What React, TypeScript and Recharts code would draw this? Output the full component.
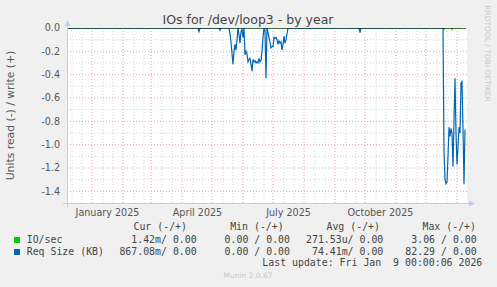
import { CartesianGrid, Line, LineChart, XAxis, YAxis } from "recharts";

// x = days counted from 1 Jan 2025; the year graph spans 400 days
const monthStarts = [-31, 0, 31, 59, 90, 120, 151, 181, 212, 243, 273, 304, 334, 365];
const monthLabels = ["January 2025", "April 2025", "July 2025", "October 2025"];
const labelDays = [15.5, 105.5, 196.5, 288.5];
const yTicks = [0, -0.2, -0.4, -0.6, -0.8, -1.0, -1.2, -1.4];
const yMinor = [-0.1, -0.3, -0.5, -0.7, -0.9, -1.1, -1.3];

// Req Size (KB), read side (drawn negative)
const reqDays = [
  -25, 106, 107, 108, 127, 128, 129, 137, 138, 139, 140, 141, 142, 143, 144, 145, 146, 147, 148, 149,
  150, 151, 152, 153, 154, 155, 156, 157, 158, 159, 160, 161, 162, 163, 164, 165, 166, 167, 168, 169,
  170, 171, 172, 173, 174, 175, 176, 177, 178, 179, 180, 181, 182, 183, 184, 185, 186, 187, 188, 189,
  190, 191, 192, 193, 194, 195, 196, 267, 268, 269, 350, 351, 352, 353, 354, 355, 356, 357, 358, 359,
  360, 361, 362, 363, 364, 365, 366, 367, 368, 369, 370, 371, 372, 373,
];
const reqRead = [
  0, 0, -0.03, 0, 0, -0.02, 0, 0, -0.05, -0.12, -0.22, -0.31, -0.2, -0.14, -0.19, -0.1, 0, -0.06, -0.13, -0.03,
  -0.01, -0.08, 0, -0.23, -0.2, -0.22, -0.29, -0.27, -0.26, -0.31, -0.37, -0.27, -0.29, -0.28, -0.3, -0.29, -0.3, -0.26, -0.29, -0.28,
  -0.2, -0.08, 0, -0.02, -0.43, 0, -0.04, -0.08, -0.12, -0.17, -0.16, -0.16, -0.08, -0.09, -0.08, -0.1, -0.14, -0.11, -0.13, -0.12,
  -0.19, -0.14, -0.07, -0.13, -0.1, -0.05, 0, 0, -0.04, 0, 0, 0, -1.05, -1.3, -1.335, -1.32, -1.1, -0.85, -0.93, -0.86,
  -0.9, -1.19, -0.8, -0.43, -0.9, -1.17, -1.02, -0.85, -0.9, -0.47, -0.46, -0.87, -1.34, -0.87,
];

// IO/sec, read side
const ioDays = [-25, 174, 175, 176, 351, 352, 353, 359, 360, 361, 374];
const ioRead = [0, 0, -0.012, 0, 0, -0.012, 0, 0, -0.012, 0, 0];

const zeroDays = [-25, 374];
const zeroVals = [0, 0];

const reqData = reqDays.map((d, i) => ({ day: d, v: reqRead[i] }));
const ioData = ioDays.map((d, i) => ({ day: d, v: ioRead[i] }));
const zeroData = zeroDays.map((d, i) => ({ day: d, v: zeroVals[i] }));

const xMin = -25;
const xMax = 375;
const majorX = monthStarts.filter((d) => d > xMin && d < xMax);
const minorX = monthStarts.flatMap((d) => [d + 11, d + 21]).filter((d) => d > xMin && d < xMax);

const sans = "'DejaVu Sans', sans-serif";
const mono = "'DejaVu Sans Mono', monospace";

function XTick({ x, y, payload }: any) {
  const i = labelDays.indexOf(payload.value);
  return (
    <text x={x} y={y} dy="0.71em" textAnchor="middle" fontSize={9.6} fontFamily={sans} fill="#555">
      {monthLabels[i]}
    </text>
  );
}

function YTick({ x, y, payload }: any) {
  return (
    <text x={x} y={y} dy="0.355em" textAnchor="end" fontSize={9.6} fontFamily={sans} fill="#555">
      {Number(payload.value).toFixed(1)}
    </text>
  );
}

export default function App() {
  return (
    <div style={{ position: "absolute", left: 0, top: 0, width: 497, height: 287, background: "#f0f0f0" }}>
      <LineChart width={497} height={287} margin={{ top: 28, right: 30, bottom: 54, left: 0 }}>
        <CartesianGrid
          fill="#ffffff"
          stroke="#d4d4d4"
          strokeDasharray="1 2"
          verticalValues={minorX}
          horizontalValues={yMinor}
        />
        <CartesianGrid
          stroke="#e8a4a4"
          strokeDasharray="1 2"
          verticalValues={majorX}
          horizontalValues={yTicks.slice(1)}
        />
        <XAxis
          type="number"
          dataKey="day"
          domain={[xMin, xMax]}
          allowDataOverflow
          ticks={labelDays}
          interval={0}
          height={30}
          axisLine={false}
          tickLine={false}
          tickSize={0}
          tickMargin={6}
          tick={<XTick />}
        />
        <YAxis
          type="number"
          domain={[-1.5, 0]}
          allowDataOverflow
          ticks={yTicks}
          interval={0}
          width={67}
          axisLine={false}
          tickLine={false}
          tickSize={0}
          tickMargin={7}
          tick={<YTick />}
        />
        <Line data={ioData} dataKey="v" type="linear" stroke="#00cc00" strokeWidth={1.2} dot={false} isAnimationActive={false} />
        <Line data={reqData} dataKey="v" type="linear" stroke="#0066b3" strokeWidth={1.2} dot={false} isAnimationActive={false} />
        <Line data={zeroData} dataKey="v" type="linear" stroke="#000000" strokeWidth={1} dot={false} isAnimationActive={false} />
      </LineChart>

      <svg width={497} height={287} style={{ position: "absolute", left: 0, top: 0, pointerEvents: "none" }}>
        {/* axes with arrows */}
        <line x1={67.5} y1={24} x2={67.5} y2={207} stroke="#c8c8f0" />
        <line x1={63} y1={203.5} x2={470} y2={203.5} stroke="#c8c8f0" />
        <polygon points="64.5,26 70.5,26 67.5,20" fill="#c8c8f0" />
        <polygon points="469,200.5 469,206.5 475,203.5" fill="#c8c8f0" />

        <text x={248} y={24} textAnchor="middle" fontSize={12.5} fontFamily={sans} fill="#444">
          IOs for /dev/loop3 - by year
        </text>
        <text
          transform="translate(14,115.5) rotate(-90)"
          textAnchor="middle"
          fontSize={10.8}
          fontFamily={sans}
          fill="#555"
        >
          Units read (-) / write (+)
        </text>
        <text
          transform="translate(484.5,53.5) rotate(90)"
          textAnchor="middle"
          fontSize={7.5}
          fontFamily={sans}
          fill="#c8c8c8"
        >
          RRDTOOL / TOBI OETIKER
        </text>

        <g fontFamily={mono} fontSize={9.9} fill="#444">
          <text x={187} y={230} textAnchor="end">Cur (-/+)</text>
          <text x={283.7} y={230} textAnchor="end">Min (-/+)</text>
          <text x={380} y={230} textAnchor="end">Avg (-/+)</text>
          <text x={476} y={230} textAnchor="end">Max (-/+)</text>

          <rect x={14} y={237} width={6} height={6} fill="#00cc00" />
          <text x={26.7} y={242.7}>IO/sec</text>
          <text x={196.7} y={242.7} textAnchor="end">1.42m/ 0.00</text>
          <text x={290} y={242.7} textAnchor="end">0.00 / 0.00</text>
          <text x={383.3} y={242.7} textAnchor="end">271.53u/ 0.00</text>
          <text x={476.7} y={242.7} textAnchor="end">3.06 / 0.00</text>

          <rect x={14} y={249} width={6} height={6} fill="#0066b3" />
          <text x={26.7} y={254.5}>Req Size (KB)</text>
          <text x={196.7} y={254.5} textAnchor="end">867.08m/ 0.00</text>
          <text x={290} y={254.5} textAnchor="end">0.00 / 0.00</text>
          <text x={383.3} y={254.5} textAnchor="end">74.41m/ 0.00</text>
          <text x={476.7} y={254.5} textAnchor="end">82.29 / 0.00</text>

          <text x={482.3} y={266} textAnchor="end" xmlSpace="preserve" style={{ whiteSpace: "pre" }}>
            {"Last update: Fri Jan  9 00:00:06 2026"}
          </text>
        </g>
        <text x={248} y={278.3} textAnchor="middle" fontSize={7.5} fontFamily={sans} fill="#c8c8c8">
          Munin 2.0.67
        </text>
      </svg>
    </div>
  );
}
